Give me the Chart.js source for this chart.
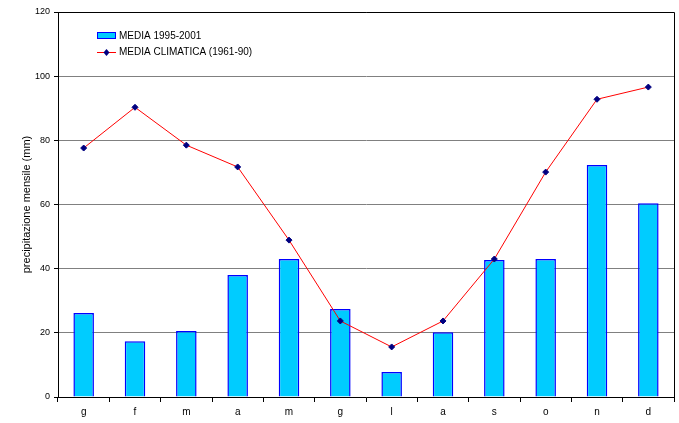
<!DOCTYPE html>
<html lang="it">
<head>
  <meta charset="UTF-8">
  <title>Precipitazione mensile</title>
  <script src="https://cdn.jsdelivr.net/npm/chart.js"></script>
  <style>
    html, body { margin: 0; padding: 0; background: #fff; }
    #wrap { width: 679px; height: 423px; position: relative; }
  </style>
</head>
<body>
  <div id="wrap"><canvas id="myChart"></canvas></div>
  <script>
    // mesi
    const mesi = ['g', 'f', 'm', 'a', 'm', 'g', 'l', 'a', 's', 'o', 'n', 'd'];
    // MEDIA 1995-2001 (mm)
    const media9501 = [26.2, 17.4, 20.6, 38.0, 43.0, 27.4, 7.8, 20.2, 42.7, 43.0, 72.3, 60.4];
    // MEDIA CLIMATICA 1961-90 (mm)
    const mediaClima = [77.6, 90.3, 78.5, 71.7, 48.9, 23.7, 15.6, 23.7, 43.0, 70.1, 92.8, 96.6];
    const yTicks = [0, 20, 40, 60, 80, 100, 120];

    const fontFam = '"Liberation Sans", Arial, sans-serif';

    // bordo superiore/destro e legenda interna
    const extras = {
      id: 'extras',
      afterDraw(chart) {
        const { ctx, chartArea: a } = chart;
        ctx.save();
        ctx.strokeStyle = '#000';
        ctx.lineWidth = 1;
        ctx.beginPath();
        ctx.moveTo(a.left, a.top + 0.5);
        ctx.lineTo(a.right + 0.5, a.top + 0.5);
        ctx.lineTo(a.right + 0.5, a.bottom);
        ctx.stroke();

        // legenda
        const lx = 97, ly1 = 36, ly2 = 52;
        ctx.fillStyle = '#00CCFF';
        ctx.fillRect(lx, ly1 - 3, 18, 6);
        ctx.strokeStyle = '#0000FF';
        ctx.strokeRect(lx + 0.5, ly1 - 3.5, 18, 6);
        ctx.strokeStyle = '#FF0000';
        ctx.beginPath();
        ctx.moveTo(lx, ly2 + 0.5);
        ctx.lineTo(lx + 19, ly2 + 0.5);
        ctx.stroke();
        ctx.fillStyle = '#000080';
        ctx.beginPath();
        ctx.moveTo(lx + 9.5, ly2 - 3);
        ctx.lineTo(lx + 12.5, ly2 + 0.5);
        ctx.lineTo(lx + 9.5, ly2 + 4);
        ctx.lineTo(lx + 6.5, ly2 + 0.5);
        ctx.closePath();
        ctx.fill();
        ctx.fillStyle = '#000';
        ctx.font = '10px ' + fontFam;
        ctx.textBaseline = 'middle';
        ctx.fillText('MEDIA 1995-2001', lx + 22, ly1);
        ctx.fillText('MEDIA CLIMATICA (1961-90)', lx + 22, ly2);
        ctx.restore();
      }
    };

    const ctx = document.getElementById('myChart').getContext('2d');
    new Chart(ctx, {
      data: {
        labels: mesi,
        datasets: [
          {
            type: 'line',
            label: 'MEDIA CLIMATICA (1961-90)',
            data: mediaClima,
            borderColor: '#FF0000',
            borderWidth: 1,
            pointStyle: 'rectRot',
            pointRadius: 3,
            pointBackgroundColor: '#000080',
            pointBorderColor: '#000080',
            pointBorderWidth: 1,
            tension: 0,
            order: 1
          },
          {
            type: 'bar',
            label: 'MEDIA 1995-2001',
            data: media9501,
            backgroundColor: '#00CCFF',
            borderColor: '#0000FF',
            borderWidth: 1.5,
            categoryPercentage: 1,
            barPercentage: 0.4,
            order: 2
          }
        ]
      },
      options: {
        responsive: true,
        maintainAspectRatio: false,
        animation: false,
        layout: { padding: { top: 12, right: 4, left: 0, bottom: 0 } },
        plugins: {
          legend: { display: false },
          tooltip: { enabled: false }
        },
        scales: {
          x: {
            grid: { offset: true, drawOnChartArea: false, color: '#000', tickLength: 5 },
            border: { color: '#000', width: 1 },
            ticks: { color: '#000', font: { family: fontFam, size: 10 }, padding: 4 },
            afterFit: s => { s.height = 26; }
          },
          y: {
            min: 0,
            max: 120,
            afterBuildTicks: s => { s.ticks = yTicks.map(v => ({ value: v })); },
            grid: { color: '#808080', tickLength: 4, tickColor: '#000' },
            border: { color: '#000', width: 1 },
            ticks: { color: '#000', font: { family: fontFam, size: 9 }, padding: 4 },
            title: {
              display: true,
              text: 'precipitazione mensile (mm)',
              color: '#000',
              font: { family: fontFam, size: 11 },
              padding: { top: 20, bottom: 0 }
            },
            afterFit: s => { s.width = 58; }
          }
        }
      },
      plugins: [extras]
    });
  </script>
</body>
</html>
